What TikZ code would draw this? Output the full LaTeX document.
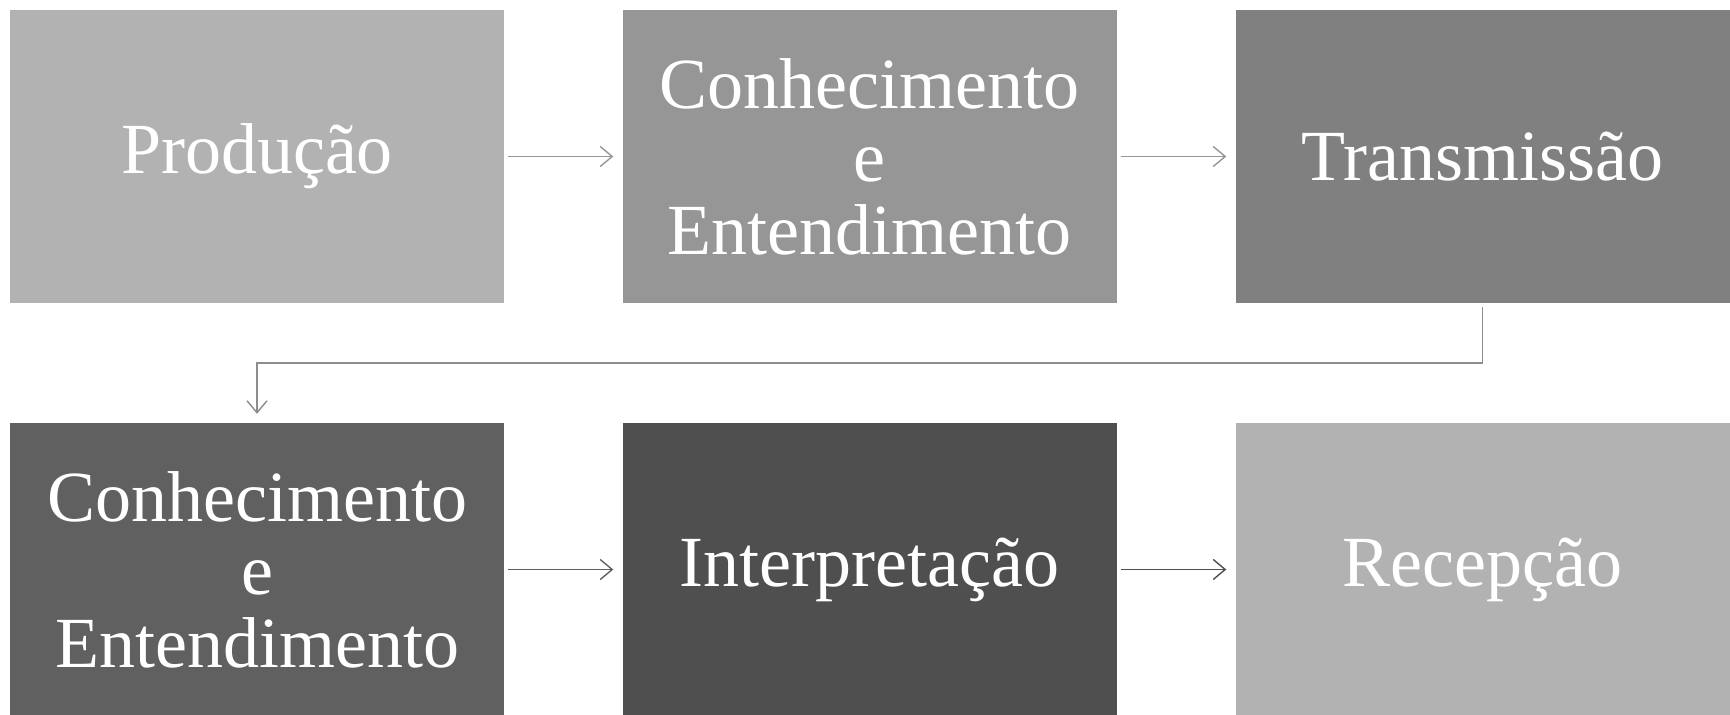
\documentclass[tikz,border=0pt]{standalone}
\usepackage{fontspec}
\setmainfont{Liberation Serif}
\usetikzlibrary{arrows.meta}
\definecolor{cA}{HTML}{B2B2B2}
\definecolor{cB}{HTML}{969696}
\definecolor{cC}{HTML}{808080}
\definecolor{cD}{HTML}{606060}
\definecolor{cE}{HTML}{4F4F4F}
\tikzset{
  box/.style={rectangle, inner sep=0pt, minimum width=494pt, minimum height=293pt,
    text=white, align=center, font=\fontsize{72}{73}\selectfont},
  arr/.style={line width=1.4pt, -{Straight Barb[length=12pt,width=20pt,line width=1.4pt]},
    shorten <=4pt, shorten >=9pt}
}
\begin{document}
\begin{tikzpicture}[x=1pt,y=-1pt]
\useasboundingbox (0,0) rectangle (1730,715);
\fill[white] (0,0) rectangle (1730,715);
\node[box, fill=cA] (b1) at (257,156.5) {Produção};
\node[box, fill=cB] (b2) at (869.5,156.5) {Conhecimento\\e\\Entendimento};
\node[box, fill=cC] (b3) at (1482.5,156.5) {Transmissão};
\node[box, fill=cD] (b4) at (257,569.5) {Conhecimento\\e\\Entendimento};
\node[box, fill=cE] (b5) at (869.5,569.5) {Interpretação};
\node[box, fill=cA] (b6) at (1482.5,569.5) {Recepção};
\coordinate (m) at (0,363);
\draw[arr, cA!85!black] (b1.east) -- (b2.west);
\draw[arr, cB] (b2.east) -- (b3.west);
\draw[arr, cC!90!white] (b3.south) -- (b3.south |- m) -- (b4.north |- m) -- (b4.north);
\draw[arr, cD] (b4.east) -- (b5.west);
\draw[arr, cE] (b5.east) -- (b6.west);
\end{tikzpicture}
\end{document}
